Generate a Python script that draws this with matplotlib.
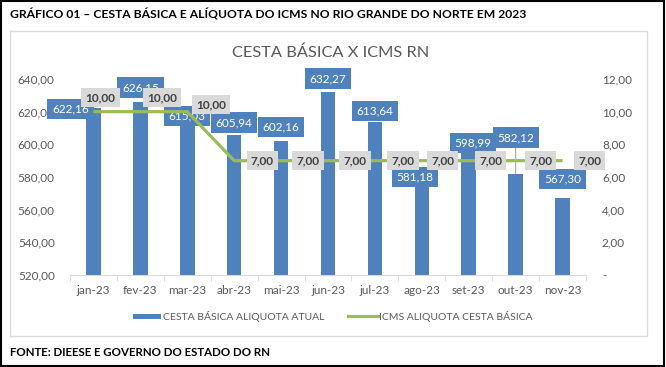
import matplotlib
matplotlib.use("Agg")
import matplotlib.pyplot as plt
from matplotlib.patches import Rectangle
from matplotlib.lines import Line2D

# ---------------- data ----------------
months = ["jan-23", "fev-23", "mar-23", "abr-23", "mai-23", "jun-23",
          "jul-23", "ago-23", "set-23", "out-23", "nov-23"]
cesta = [622.16, 626.15, 615.03, 605.94, 602.16, 632.27,
         613.64, 581.18, 598.99, 582.12, 567.30]
icms = [10.00, 10.00, 10.00, 7.00, 7.00, 7.00, 7.00, 7.00, 7.00, 7.00, 7.00]
left_ticks = [520, 540, 560, 580, 600, 620, 640]
right_ticks = [0, 2, 4, 6, 8, 10, 12]

header = "GRÁFICO 01 – CESTA BÁSICA E ALÍQUOTA DO ICMS NO RIO GRANDE DO NORTE EM 2023"
chart_title = "CESTA BÁSICA X ICMS RN"
footer = "FONTE: DIEESE E GOVERNO DO ESTADO DO RN"
bar_name = "CESTA BÁSICA ALIQUOTA ATUAL"
line_name = "ICMS ALIQUOTA CESTA BÁSICA"

# ---------------- style / layout ----------------
BLUE = "#4F81BD"
GREEN = "#9BBB59"
GRAYTXT = "#595959"
LBLGRAY = "#D9D9D9"
FONT = "Lato"
plt.rcParams["font.family"] = [FONT, "DejaVu Sans"]

# label offsets in pixels (dx right, dy down) relative to data point
bar_lbl_off = [(-23, 1), (0, -14), (0, -4), (0, -12), (0, -14), (0, -13),
               (0, -11), (-7, 2), (4, -3), (0, -36), (0, -19)]
line_lbl_off = [(7, -14), (22, -14), (24, -7), (28, 0), (27, 0), (27, 0),
                (28, 0), (21, 0), (22, 0), (25, 0), (27, 0)]

W, H = 666, 367
fig = plt.figure(figsize=(W / 100, H / 100), dpi=100)


def fx(px):
    return px / W


def fy(py):
    return 1 - py / H


def br(v):
    return f"{v:,.2f}".replace(",", "X").replace(".", ",").replace("X", ".")


# frames
fig.add_artist(Rectangle((fx(1), fy(366)), fx(663), 365 / H, transform=fig.transFigure,
                         fill=False, ec="black", lw=1.5))
fig.add_artist(Rectangle((fx(10), fy(336)), fx(637), 305 / H, transform=fig.transFigure,
                         fill=False, ec=LBLGRAY, lw=1))

fig.text(fx(10), fy(15), header, ha="left", va="center", fontsize=8.7,
         fontweight="bold", color="black")
fig.text(fx(10), fy(353), footer, ha="left", va="center", fontsize=8.3,
         fontweight="bold", color="black")
fig.text(fx(331), fy(53), chart_title, ha="center", va="center", fontsize=11.8,
         color=GRAYTXT)

ax = fig.add_axes([fx(70), fy(275), 516 / W, 196 / H])
x = list(range(len(months)))
ax.bar(x, cesta, width=0.31, color=BLUE, zorder=2)
ax.set_xlim(-0.5, len(months) - 0.5)
ax.set_ylim(left_ticks[0], left_ticks[-1])
ax.set_yticks(left_ticks)
ax.set_yticklabels([br(v) for v in left_ticks])
ax.set_xticks(x)
ax.set_xticklabels(months)
ax.set_xticks([i - 0.5 for i in range(len(months) + 1)], minor=True)
ax.tick_params(axis="x", which="major", length=0, pad=7, labelsize=8.5,
               labelcolor=GRAYTXT)
ax.tick_params(axis="x", which="minor", length=4, color=LBLGRAY, direction="out")
ax.tick_params(axis="y", length=0, pad=11, labelsize=8.5, labelcolor=GRAYTXT)
for s in ["top", "left", "right"]:
    ax.spines[s].set_visible(False)
ax.spines["bottom"].set_color(LBLGRAY)

for i, v in enumerate(cesta):
    dx, dy = bar_lbl_off[i]
    kw = {}
    if i == 9:
        kw["arrowprops"] = dict(arrowstyle="-", color="#A6A6A6", lw=0.8,
                                shrinkA=0, shrinkB=0)
    ax.annotate(br(v), xy=(i, v), xytext=(dx * 0.72, -dy * 0.72),
                textcoords="offset points", ha="center", va="center",
                fontsize=8.5, color="white", zorder=5,
                bbox=dict(boxstyle="square,pad=0.4", fc=BLUE, ec="none"), **kw)

ax2 = ax.twinx()
ax2.set_ylim(right_ticks[0], right_ticks[-1])
ax2.set_yticks(right_ticks)
ax2.set_yticklabels(["-" if v == 0 else br(v) for v in right_ticks])
ax2.tick_params(axis="y", length=0, pad=11.5, labelsize=8.5, labelcolor=GRAYTXT)
for s in ["top", "left", "right", "bottom"]:
    ax2.spines[s].set_visible(False)
ax2.plot(x, icms, color=GREEN, lw=2.3, zorder=3, solid_capstyle="butt")
for i, r in enumerate(icms):
    dx, dy = line_lbl_off[i]
    ax2.annotate(br(r), xy=(i, r), xytext=(dx * 0.72, -dy * 0.72),
                 textcoords="offset points", ha="center", va="center",
                 fontsize=8.5, fontweight="bold", color="#404040", zorder=6,
                 bbox=dict(boxstyle="square,pad=0.35", fc=LBLGRAY, ec="none"))

# legend
fig.add_artist(Rectangle((fx(133), fy(318.5)), 28 / W, 5 / H, transform=fig.transFigure,
                         fc=BLUE, ec="none"))
fig.text(fx(163), fy(316), bar_name, ha="left", va="center", fontsize=7.5, color=GRAYTXT)
fig.add_artist(Line2D([fx(348), fx(378)], [fy(316), fy(316)], transform=fig.transFigure,
                      color=GREEN, lw=2.3))
fig.text(fx(379), fy(316), line_name, ha="left", va="center", fontsize=7.5, color=GRAYTXT)

fig.savefig("out.png", dpi=100)
